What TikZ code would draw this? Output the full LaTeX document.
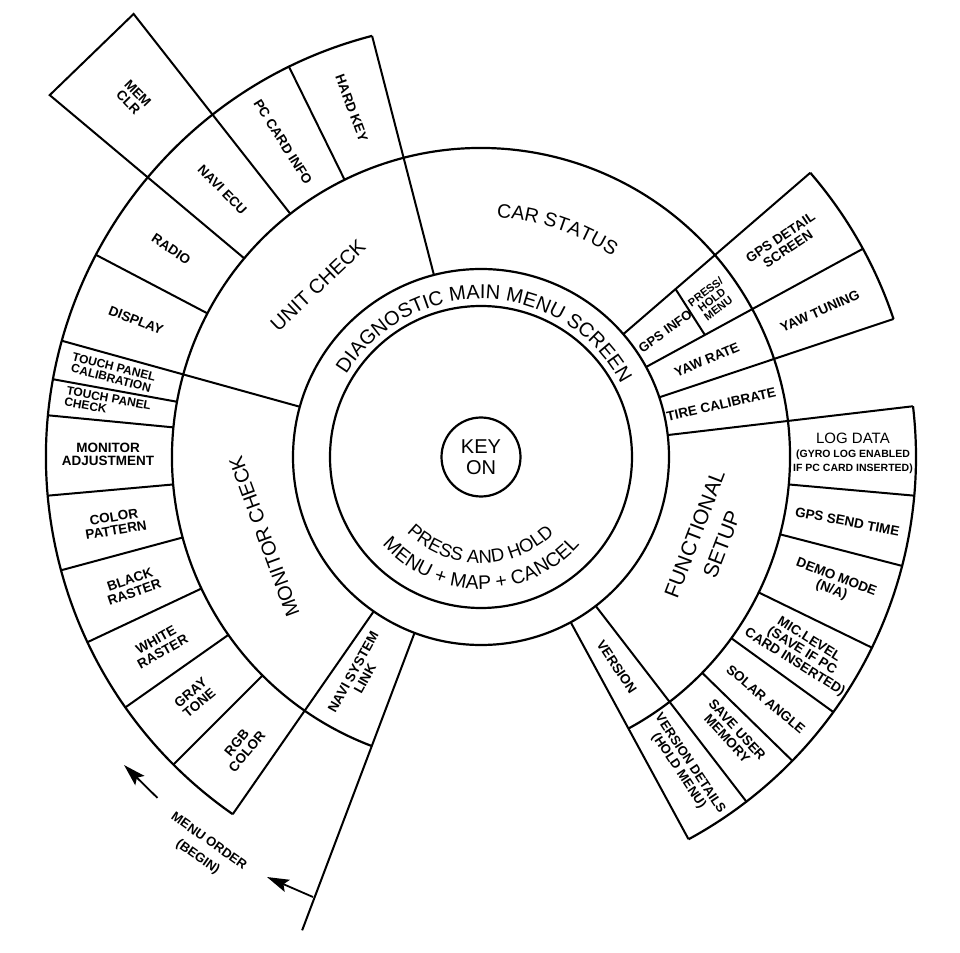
\documentclass[tikz,border=0pt]{standalone}
\usepackage{fontspec}
\setmainfont{Liberation Sans}
\usetikzlibrary{arrows.meta, decorations.text}

\begin{document}
\begin{tikzpicture}[
    x=1pt, y=1pt,
    >={Stealth[length=22pt, width=13pt, inset=4pt]},
    ring/.style={line width=2.2pt},
    cell/.style={line width=2pt},
    item/.style={font=\fontsize{13.5}{13.5}\selectfont\bfseries, align=center, inner sep=0pt},
    itemsm/.style={item, font=\fontsize{12}{11.5}\selectfont\bfseries},
    head/.style={font=\fontsize{20}{24}\selectfont, align=center, inner sep=0pt},
    arcword/.style={decorate, decoration={text along path, text align=center, text={#1}}},
    arrow/.style={->, line width=1.8pt},
]
\useasboundingbox (-481,-495) rectangle (479,457);

% Centre: key circle and the menu screen ring
\node[draw, circle, line width=2.2pt, minimum size=79pt, inner sep=0pt,
      font=\fontsize{20}{21}\selectfont, align=center] (key) at (0,0) {KEY\\ON};
\draw[ring] (0,0) circle (151) (0,0) circle (188);
\path[arcword={|\fontsize{20}{20}\selectfont|DIAGNOSTIC MAIN MENU SCREEN}]
    (160:158) arc[start angle=160, end angle=16, radius=158];
\path[arcword={|\fontsize{18.5}{18.5}\selectfont|PRESS AND HOLD}]
    (-150.35:106) arc[start angle=-150.35, end angle=-30.35, radius=106];
\path[arcword={|\fontsize{19.5}{19.5}\selectfont|MENU + MAP + CANCEL}]
    (-165:132) arc[start angle=-165, end angle=-15, radius=132];

% Ring 2 and ring 3 outlines
\draw[ring] (-61.5:309) arc[start angle=-61.5, end angle=249.3, radius=309];
\draw[ring] (104.5:435) arc[start angle=104.5, end angle=235.2, radius=435]
    (18.5:435) arc[start angle=18.5, end angle=40.8, radius=435]
    (-61.5:435) arc[start angle=-61.5, end angle=6.7, radius=435];

% Main sector dividers (ring 2 out to ring 3)
\draw[cell] (104.5:188) -- (104.5:435) (164.5:188) -- (164.5:435)
    (235.2:188) -- (235.2:435) (40.8:188) -- (40.8:435)
    (28.6:188) -- (28.6:435) (18.5:188) -- (18.5:435)
    (6.7:188) -- (6.7:435) (-52.4:188) -- (-52.4:435)
    (-61.5:188) -- (-61.5:435);
% Sub item dividers
\draw[cell] (116.2:309) -- (116.2:435) (152.3:309) -- (152.3:435)
    (169.7:309) -- (169.7:435) (174.5:309) -- (174.5:435)
    (185.1:309) -- (185.1:435) (195.1:309) -- (195.1:435)
    (205.2:309) -- (205.2:435) (215.15:309) -- (215.15:435)
    (225:309) -- (225:435) (-5.1:309) -- (-5.1:435)
    (-14.5:309) -- (-14.5:435) (-26:309) -- (-26:435)
    (-35.9:309) -- (-35.9:435) (-44.3:309) -- (-44.3:435);
\draw[cell] (40.8:257) -- (28.6:255);
% MEM CLR box sticks out past ring 3
\draw[cell] (128.1:309) -- (128.1:563) -- (140:563) -- (140:309);
% Menu order start line
\draw[cell] (-110.7:188) -- (-110.7:506);

% Main sectors
\node[head, rotate=43.5] (unitcheck) at (133.5:237) {UNIT CHECK};
\node[head, rotate=110.2] (monitorcheck) at (200.2:231) {MONITOR CHECK};
\node[head, font=\fontsize{21}{29}\selectfont, rotate=69] (functional) at (-19.9:241.6) {FUNCTIONAL\\SETUP};
\path[arcword={|\fontsize{19.5}{19.5}\selectfont|CAR STATUS}]
    (101.5:240) arc[start angle=101.5, end angle=41.5, radius=240];

% Unit check items
\node[item, rotate=-69.65] (hardkey) at (110.35:372) {HARD KEY};
\node[item, rotate=-57.85] (pccard) at (122.15:372) {PC CARD INFO};
\node[item, rotate=-45.95] (naviecu) at (134.05:372) {NAVI ECU};
\node[item, rotate=-33.85] (radio) at (146.15:373) {RADIO};
\node[item, rotate=-21.6] (display) at (158.4:371) {DISPLAY};
\node[item, rotate=-46] (memclr) at (134.1:500) {MEM\\CLR};
\node[itemsm, rotate=-14.5] (tpcal) at (167.1:378) {TOUCH PANEL\\CALIBRATION};
\node[itemsm, rotate=-10.5, align=left] (tpcheck) at (171.9:377) {TOUCH PANEL\\CHECK};

% Monitor check items
\node[item] (monadj) at (179.6:373) {MONITOR\\ADJUSTMENT};
\node[item, rotate=9.5] (colorpat) at (190.3:372) {COLOR\\PATTERN};
\node[item, rotate=19] (blackras) at (200.3:372) {BLACK\\RASTER};
\node[item, rotate=29] (whiteras) at (210.4:373) {WHITE\\RASTER};
\node[item, rotate=40] (graytone) at (220.1:374) {GRAY\\TONE};
\node[item, rotate=50] (rgbcolor) at (230.5:376) {RGB\\COLOR};
\node[item, rotate=61] (navilink) at (240.8:250) {NAVI SYSTEM\\LINK};

% Car status items
\node[item, font=\fontsize{13}{13}\selectfont\bfseries, rotate=35.5] (gpsinfo) at (34.3:223) {GPS INFO};
\node[itemsm, font=\fontsize{11}{10.5}\selectfont\bfseries, rotate=37] (presshold) at (34.2:279) {PRESS/\\HOLD\\MENU};
\node[item, rotate=23] (yawrate) at (23.3:246) {YAW RATE};
\node[item, rotate=12.8] (tirecal) at (12.4:246) {TIRE CALIBRATE};
\node[item, rotate=34] (gpsdetail) at (35.2:371) {GPS DETAIL\\SCREEN};
\node[item, rotate=24] (yawtuning) at (23.3:369) {YAW TUNING};

% Functional setup items
\node[item, font=\fontsize{15}{14}\selectfont] (logdata) at (0.6:372)
    {LOG DATA\\\fontsize{10.5}{11}\selectfont\bfseries (GYRO LOG ENABLED\\\fontsize{10.5}{11}\selectfont\bfseries IF PC CARD INSERTED)};
\node[item, rotate=-11] (gpssend) at (-10:372) {GPS SEND TIME};
\node[item, rotate=-21] (demomode) at (-19.8:375) {DEMO MODE\\(N/A)};
\node[item, rotate=-32] (miclevel) at (-31.2:375) {MIC.LEVEL\\(SAVE IF PC\\CARD INSERTED)};
\node[item, rotate=-40.5] (solar) at (-40.4:374) {SOLAR ANGLE};
\node[item, rotate=-47.5] (saveuser) at (-47.8:374) {SAVE USER\\MEMORY};
\node[item, font=\fontsize{13}{13.5}\selectfont\bfseries, rotate=-56.5] (verdetail) at (-56.8:371) {VERSION DETAILS\\(HOLD MENU)};
\node[item, rotate=-56.5] (version) at (-57.1:250) {VERSION};

% === Menu order arrows ===
\coordinate (ordA) at (-110.9:471);
\coordinate (ordAtip) at (-117:471.4);
\coordinate (ordB) at (-133.5:470);
\coordinate (ordBtip) at (-139.2:471.5);
\draw[arrow] (ordA) -- (ordAtip);
\draw[arrow] (ordB) -- (ordBtip);
\node[item, font=\fontsize{13}{19}\selectfont\bfseries, rotate=-35.3] (menuorder) at (-125.3:481) {MENU ORDER\\(BEGIN)};

\end{tikzpicture}
\end{document}
